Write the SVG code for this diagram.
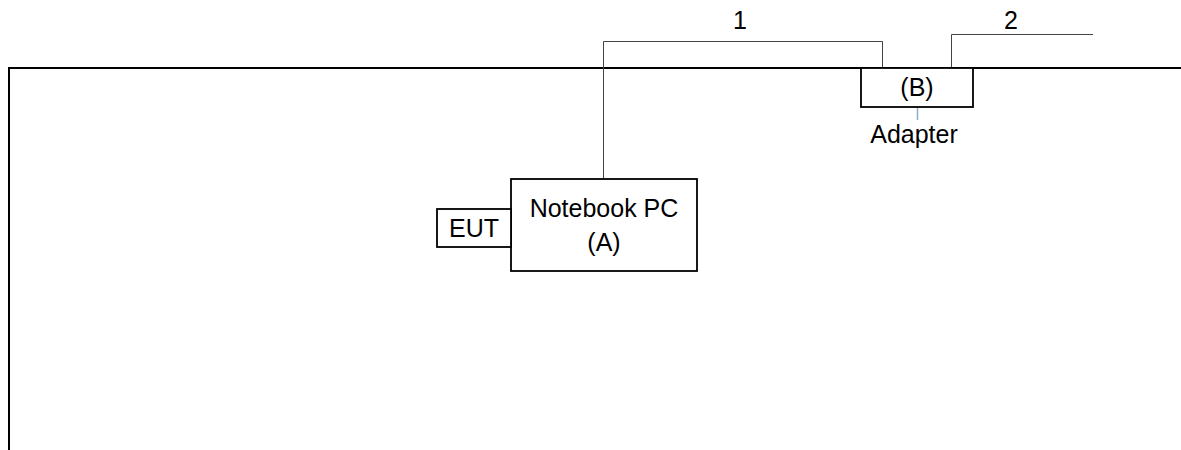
<svg xmlns="http://www.w3.org/2000/svg" width="1181" height="450" viewBox="0 0 1181 450">
<style>
.box{fill:#fff;stroke:#000;stroke-width:1.8}
.cable{fill:none;stroke:#444;stroke-width:1}
.frame{fill:none;stroke:#000;stroke-width:2}
text{font-family:"Liberation Sans",Arial,sans-serif;font-size:25px;fill:#000;text-anchor:middle}
</style>
<g id="frame"><path class="frame" d="M1181,68 H9 V450"/></g>
<g id="connectors">
<path class="cable" d="M603.5,179 V41.5 H882.5 V68"/>
<path class="cable" d="M951.5,68 V34.5 H1093"/>
<line x1="917.5" y1="107" x2="917.5" y2="120" stroke="#8fa9cf" stroke-width="1.5"/>
<text x="740" y="29">1</text>
<text x="1011" y="29">2</text>
</g>
<g id="notebook"><rect class="box" x="511" y="179" width="186" height="92"/><text x="604" y="217">Notebook PC</text><text x="604" y="251">(A)</text></g>
<g id="eut"><rect class="box" x="437" y="209" width="74" height="38"/><text x="474" y="237">EUT</text></g>
<g id="adapter"><rect class="box" x="861" y="68" width="112" height="39"/><text x="917" y="96">(B)</text><text x="914" y="143">Adapter</text></g>
</svg>
